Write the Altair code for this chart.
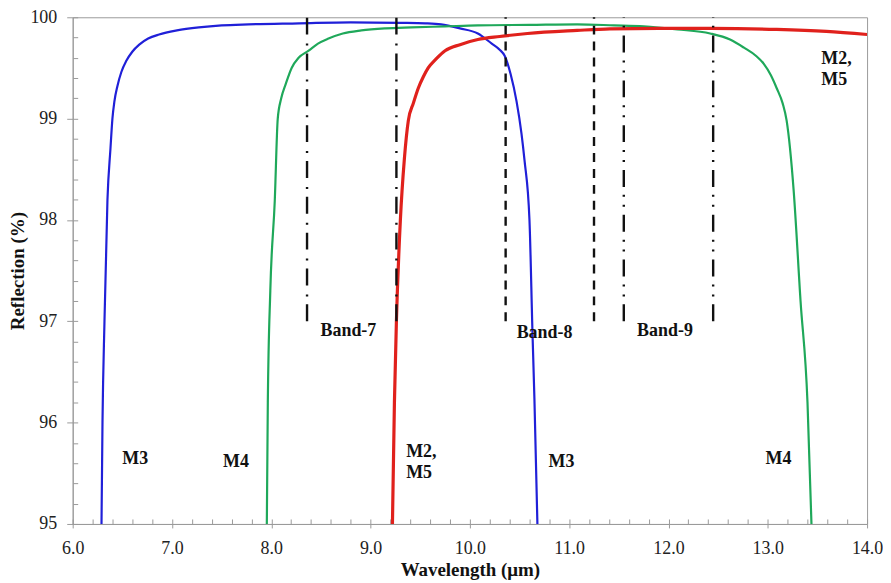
import altair as alt
import pandas as pd

# ---- curve data ----
m3_x = [6.29, 6.30, 6.32, 6.35, 6.38, 6.40, 6.42, 6.45, 6.49, 6.54, 6.60, 6.67, 6.76, 6.87, 7.05, 7.27,
        7.50, 7.77, 8.28, 8.80, 9.30, 9.55, 9.71, 9.90, 10.08, 10.22, 10.30, 10.35, 10.41, 10.47, 10.52,
        10.55, 10.60, 10.63, 10.65, 10.68]
m3_y = [95.0, 96.0, 97.0, 98.2, 98.7, 99.0, 99.17, 99.32, 99.46, 99.57, 99.66, 99.73, 99.79, 99.83, 99.87, 99.90,
        99.92, 99.93, 99.94, 99.95, 99.945, 99.94, 99.93, 99.89, 99.84, 99.74, 99.68, 99.62, 99.44, 99.17, 98.85,
        98.59, 98.0, 96.9, 96.23, 95.0]

m4_x = [7.955, 7.965, 7.99, 8.035, 8.065, 8.10, 8.145, 8.205, 8.275, 8.376, 8.47, 8.576, 8.72, 8.907, 9.15,
        9.41, 9.75, 10.08, 10.60, 11.08, 11.45, 11.75, 12.09, 12.42, 12.62, 12.76, 12.88, 12.96, 13.03, 13.09,
        13.15, 13.19, 13.26, 13.33, 13.40, 13.44]
m4_y = [95.0, 96.2, 97.3, 98.19, 99.0, 99.2, 99.34, 99.50, 99.60, 99.67, 99.74, 99.79, 99.84, 99.87, 99.89,
        99.90, 99.91, 99.92, 99.925, 99.93, 99.92, 99.91, 99.88, 99.84, 99.78, 99.70, 99.62, 99.54, 99.43, 99.30,
        99.15, 98.98, 98.3, 97.2, 96.2, 95.0]

m25_x = [9.22, 9.24, 9.26, 9.30, 9.34, 9.38, 9.43, 9.48, 9.53, 9.58, 9.66, 9.75, 9.90, 10.08, 10.30, 10.58,
         11.08, 11.41, 11.90, 12.42, 13.09, 13.59, 14.0]
m25_y = [95.0, 96.2, 97.0, 98.0, 98.6, 98.98, 99.15, 99.30, 99.41, 99.50, 99.59, 99.67, 99.73, 99.78, 99.81, 99.84,
         99.87, 99.885, 99.89, 99.89, 99.88, 99.86, 99.83]

# ---- band edges ----
band7_x = [8.36, 9.26]
band8_x = [10.36, 11.25]
band9_x = [11.55, 12.45]
band_low = 97.0
band_high = 100.0

# ---- annotations ----
ann_text = ["M3", "M4", "M2,\nM5", "M3", "M4", "M2,\nM5", "Band-7", "Band-8", "Band-9"]
ann_x = [6.50, 7.514, 9.358, 10.792, 12.977, 13.539, 8.496, 10.471, 11.684]
ann_y = [95.589, 95.560, 95.658, 95.560, 95.589, 99.538, 96.857, 96.837, 96.857]

# ---- ticks ----
x_major = [6.0, 7.0, 8.0, 9.0, 10.0, 11.0, 12.0, 13.0, 14.0]
y_major = [95, 96, 97, 98, 99, 100]
x_minor = [round(6.0 + 0.2 * i, 1) for i in range(41)]
y_minor = [round(95.0 + 0.2 * i, 1) for i in range(26)]

FONT = "'Liberation Serif', 'Times New Roman', Times, serif"
GRAY = "#9a9a9a"

xscale = alt.Scale(domain=[6, 14], nice=False, zero=False)
yscale = alt.Scale(domain=[95, 100], nice=False, zero=False)

x_axis = alt.Axis(values=x_major, format=".1f", tickSize=4, tickColor=GRAY, domainColor=GRAY,
                  labelFont=FONT, labelFontSize=18, labelColor="#222", labelPadding=26,
                  labelBaseline="alphabetic", labelFlush=False, labelOverlap=False, grid=False,
                  title="Wavelength (\u03bcm)", titleFont=FONT, titleFontSize=19,
                  titleFontWeight="bold", titleColor="#111", titleY=52,
                  titleBaseline="alphabetic")
y_axis = alt.Axis(values=y_major, format="d", tickSize=6, tickColor=GRAY, domainColor=GRAY,
                  labelFont=FONT, labelFontSize=18, labelColor="#222", labelPadding=10,
                  labelBaseline="middle", labelFlush=False, labelOverlap=False, grid=False,
                  title="Reflection (%)", titleFont=FONT, titleFontSize=19,
                  titleFontWeight="bold", titleColor="#111", titleX=-55, titleY=254.5,
                  titleAngle=270, titleBaseline="middle", titleAlign="center")

x_minor_axis = alt.Axis(values=x_minor, orient="bottom", offset=-5, tickSize=5, tickColor=GRAY,
                        domain=False, labels=False, grid=False, title=None)
y_minor_axis = alt.Axis(values=y_minor, orient="left", offset=-5, tickSize=5, tickColor=GRAY,
                        domain=False, labels=False, grid=False, title=None)


def curve(xs, ys, color, width):
    df = pd.DataFrame({"x": xs, "y": ys, "i": list(range(len(xs)))})
    return alt.Chart(df).mark_line(color=color, strokeWidth=width, clip=True,
                                   interpolate="monotone").encode(
        x=alt.X("x:Q", scale=xscale, axis=x_axis),
        y=alt.Y("y:Q", scale=yscale, axis=y_axis),
        order="i:Q",
    )


def bands(xs, dash):
    df = pd.DataFrame({"x": xs, "y": [band_low] * len(xs), "y2": [band_high] * len(xs)})
    return alt.Chart(df).mark_rule(color="#111", strokeWidth=2.4, strokeDash=dash).encode(
        x=alt.X("x:Q", scale=xscale, axis=x_axis),
        y=alt.Y("y:Q", scale=yscale, axis=y_axis),
        y2="y2:Q",
    )


blue = curve(m3_x, m3_y, "#2020d8", 2.2)
green = curve(m4_x, m4_y, "#1fa85a", 2.2)
red = curve(m25_x, m25_y, "#e0211c", 3.2)

b7 = bands(band7_x, [17, 8, 2, 9])
b8 = bands(band8_x, [9, 7])
b9 = bands(band9_x, [17, 8, 2, 8, 2, 8])

main = alt.layer(blue, green, red, b7, b8, b9)

ann_df = pd.DataFrame({"t": ann_text, "x": ann_x, "y": ann_y})
labels = alt.Chart(ann_df).mark_text(font=FONT, fontSize=18, fontWeight="bold", color="#111",
                                     align="left", baseline="alphabetic", lineBreak="\n",
                                     lineHeight=21).encode(
    x=alt.X("x:Q", scale=xscale, axis=x_minor_axis),
    y=alt.Y("y:Q", scale=yscale, axis=y_minor_axis),
    text="t:N",
)

chart = alt.layer(main, labels).resolve_axis(x="independent", y="independent").properties(
    width=798, height=509,
    autosize=alt.AutoSizeParams(type="none"),
    padding={"left": 65, "top": 8, "right": 16, "bottom": 58},
    background="white",
).configure_view(stroke=GRAY, strokeWidth=1)

chart.save("out.html", embed_options={"renderer": "svg", "actions": False})
